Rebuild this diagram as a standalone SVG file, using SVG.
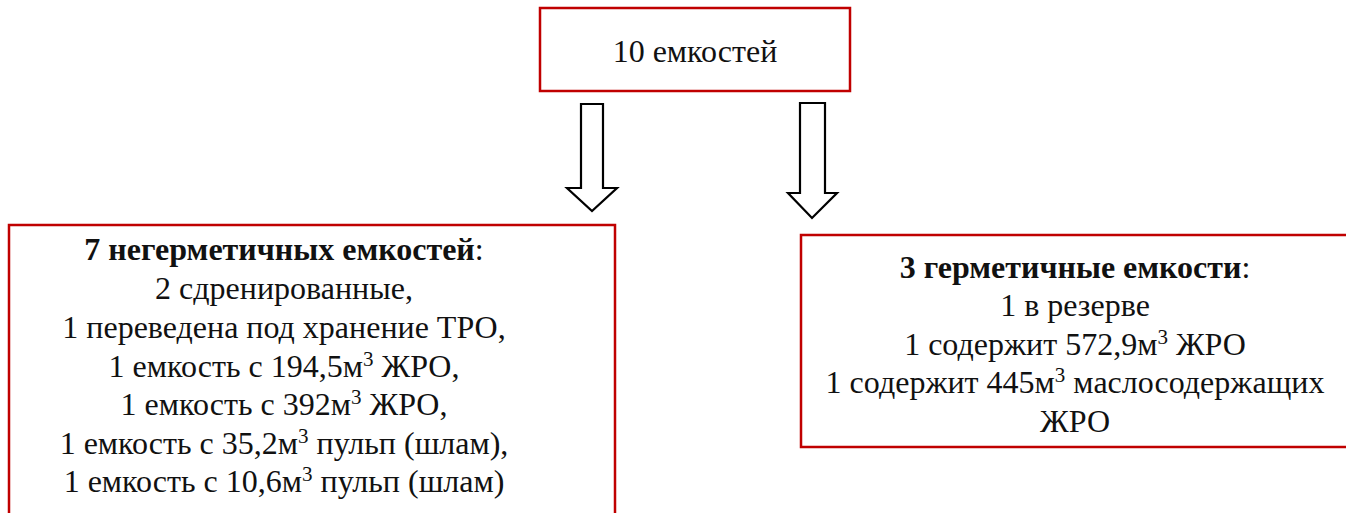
<svg xmlns="http://www.w3.org/2000/svg" width="1346" height="513" viewBox="0 0 1346 513">
<style>
.box{fill:#fff;stroke:#C00000;stroke-width:2.5}
.arrow{fill:#fff;stroke:#000;stroke-width:2.2;stroke-linejoin:miter}
text{font-family:'Liberation Serif',serif;font-size:32px;fill:#111;text-anchor:middle}
.b{font-weight:bold}
.sup{font-size:21px}
</style>
<rect width="1346" height="513" fill="#fff"/>
<g id="connectors">
<path class="arrow" d="M581,104 H603 V188 H617 L592,211 L567,188 H581 Z"/>
<path class="arrow" d="M800,103 H825 V193 H837 L812,218 L788,193 H800 Z"/>
</g>
<g id="node-top">
<rect class="box" x="540" y="8" width="310" height="83"/>
<text x="695" y="62">10 емкостей</text>
</g>
<g id="node-left">
<rect class="box" x="9" y="225" width="606" height="300"/>
<text x="284" y="260"><tspan class="b">7 негерметичных емкостей</tspan>:</text>
<text x="284" y="299">2 сдренированные,</text>
<text x="284" y="338">1 переведена под хранение ТРО,</text>
<text x="284" y="377">1 емкость с 194,5м<tspan class="sup" dy="-11">3</tspan><tspan dy="11"> ЖРО,</tspan></text>
<text x="284" y="415">1 емкость с 392м<tspan class="sup" dy="-11">3</tspan><tspan dy="11"> ЖРО,</tspan></text>
<text x="284" y="454">1 емкость с 35,2м<tspan class="sup" dy="-11">3</tspan><tspan dy="11"> пульп (шлам),</tspan></text>
<text x="284" y="492">1 емкость с 10,6м<tspan class="sup" dy="-11">3</tspan><tspan dy="11"> пульп (шлам)</tspan></text>
</g>
<g id="node-right">
<rect class="box" x="801" y="235" width="560" height="212"/>
<text x="1075" y="278"><tspan class="b">3 герметичные емкости</tspan>:</text>
<text x="1075" y="316">1 в резерве</text>
<text x="1075" y="355">1 содержит 572,9м<tspan class="sup" dy="-11">3</tspan><tspan dy="11"> ЖРО</tspan></text>
<text x="1075" y="393">1 содержит 445м<tspan class="sup" dy="-11">3</tspan><tspan dy="11"> маслосодержащих</tspan></text>
<text x="1075" y="432">ЖРО</text>
</g>
</svg>
